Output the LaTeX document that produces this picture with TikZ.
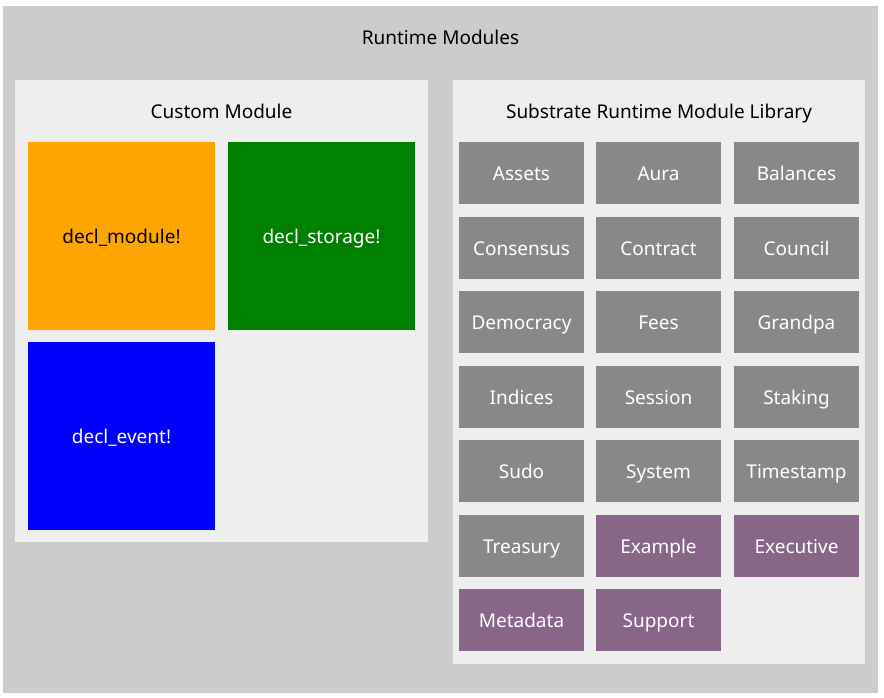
\documentclass[tikz,border=0pt]{standalone}
\usepackage{fontspec}
\setmainfont{Noto Sans}
\definecolor{outergray}{HTML}{CCCCCC}
\definecolor{panelgray}{HTML}{EEEEEE}
\definecolor{modgray}{HTML}{888888}
\definecolor{modpurple}{HTML}{886688}
\definecolor{declorange}{HTML}{FFA500}
\definecolor{declgreen}{HTML}{008000}
\definecolor{declblue}{HTML}{0000FF}
\tikzset{
  labeltext/.style={font=\fontsize{19}{22}\selectfont, text height=17pt, text depth=2pt},
  panel/.style={rectangle, inner sep=0pt, fill=panelgray},
  title/.style={labeltext, text=black},
  declbox/.style={rectangle, inner sep=0pt, minimum width=187pt, minimum height=188pt,
    labeltext, text=white},
  libbox/.style={rectangle, inner sep=0pt, minimum width=125pt, minimum height=62pt,
    fill=modgray, labeltext, text=white},
  extbox/.style={libbox, fill=modpurple}
}
\begin{document}
\begin{tikzpicture}[x=1pt, y=-1pt]
  %%%%% FRAME %%%%%
  \useasboundingbox[fill=white] (0, 0) rectangle (884, 698);
  \node[panel, fill=outergray, minimum width=875pt, minimum height=687pt] (runtime) at (440.5, 349.5) {};
  \node[title] (runtimetitle) at (440.5, 37) {Runtime Modules};

  %%%%% CUSTOM MODULE %%%%%
  \node[panel, minimum width=413pt, minimum height=462pt] (custom) at (221.5, 311) {};
  \node[title] (customtitle) at (221.5, 111) {Custom Module};
  \node[declbox, fill=declorange, text=black] (declmodule) at (121.5, 236) {decl\_module!};
  \node[declbox, fill=declgreen] (declstorage) at (321.5, 236) {decl\_storage!};
  \node[declbox, fill=declblue] (declevent) at (121.5, 436) {decl\_event!};

  %%%%% SRML %%%%%
  \node[panel, minimum width=412pt, minimum height=584pt] (srml) at (659, 372) {};
  \node[title] (srmltitle) at (659, 111) {Substrate Runtime Module Library};

  \node[libbox] (assets) at (521.5, 173) {Assets};
  \node[libbox] (aura) at (658.5, 173) {Aura};
  \node[libbox] (balances) at (796.5, 173) {Balances};

  \node[libbox] (consensus) at (521.5, 247.5) {Consensus};
  \node[libbox] (contract) at (658.5, 247.5) {Contract};
  \node[libbox] (council) at (796.5, 247.5) {Council};

  \node[libbox] (democracy) at (521.5, 322) {Democracy};
  \node[libbox] (fees) at (658.5, 322) {Fees};
  \node[libbox] (grandpa) at (796.5, 322) {Grandpa};

  \node[libbox] (indices) at (521.5, 396.5) {Indices};
  \node[libbox] (session) at (658.5, 396.5) {Session};
  \node[libbox] (staking) at (796.5, 396.5) {Staking};

  \node[libbox] (sudo) at (521.5, 471) {Sudo};
  \node[libbox] (system) at (658.5, 471) {System};
  \node[libbox] (timestamp) at (796.5, 471) {Timestamp};

  \node[libbox] (treasury) at (521.5, 546) {Treasury};
  \node[extbox] (example) at (658.5, 546) {Example};
  \node[extbox] (executive) at (796.5, 546) {Executive};

  \node[extbox] (metadata) at (521.5, 620) {Metadata};
  \node[extbox] (support) at (658.5, 620) {Support};
\end{tikzpicture}
\end{document}
